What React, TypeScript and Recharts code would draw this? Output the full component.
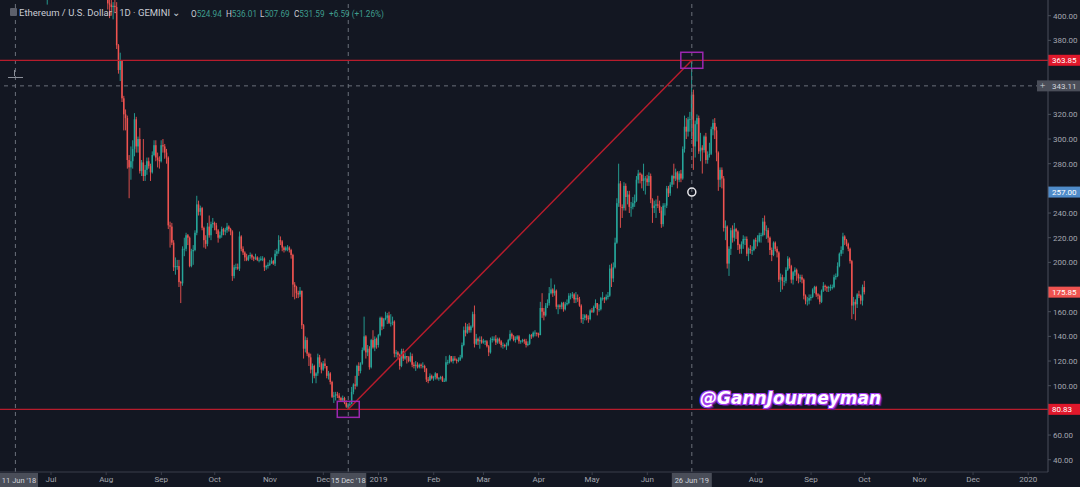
import {
  Bar,
  ComposedChart,
  ReferenceDot,
  ReferenceLine,
  XAxis,
  YAxis,
} from "recharts";

const UP = "#26a69a";
const DOWN = "#ef5350";
const BG = "#131722";
const TEXT = "#a3a6af";
const LINE_RED = "#b71c2c";
const PURPLE = "#9c27b0";
const DASH = "#6b707b";

// daily candles as [high, low, close]; open is the previous close
const firstOpen = 475;
const jun18 = [ // from 22 Jun
  [483, 459, 465], [476, 462, 470], [473, 428, 456], [466, 445, 458], [462, 428, 430],
  [445, 425, 441], [442, 418, 420], [438, 409, 435], [458, 433, 455],
];
const jul18 = [
  [461, 448, 453], [478, 446, 476], [480, 462, 464], [471, 459, 467], [472, 458, 467],
  [476, 459, 474], [494, 470, 491], [496, 483, 486], [490, 470, 473], [474, 432, 434],
  [450, 432, 448], [448, 425, 431], [440, 428, 433], [440, 430, 435], [453, 433, 449],
  [481, 448, 479], [503, 472, 499], [510, 475, 478], [480, 463, 469], [477, 444, 449],
  [465, 446, 461], [467, 454, 456], [465, 453, 457], [482, 455, 479], [482, 466, 472],
  [474, 460, 464], [472, 455, 470], [472, 462, 467], [473, 462, 466], [467, 447, 457],
  [459, 428, 433],
];
const aug18 = [
  [435, 417, 423], [424, 405, 410], [417, 398, 409], [416, 400, 407], [411, 397, 408],
  [414, 402, 407], [411, 373, 376], [377, 353, 356], [370, 347, 364], [364, 330, 333],
  [335, 307, 320], [324, 307, 317], [319, 276, 283], [287, 252, 277], [294, 267, 282],
  [299, 276, 292], [321, 286, 316], [318, 289, 294], [302, 289, 300], [309, 272, 274],
  [283, 270, 281], [300, 266, 270], [279, 266, 275], [285, 271, 282], [285, 276, 278],
  [280, 266, 273], [290, 272, 287], [299, 286, 295], [299, 282, 285], [289, 277, 283],
  [286, 276, 282],
];
const sep18 = [
  [299, 281, 295], [300, 289, 294], [296, 284, 289], [292, 280, 285], [286, 227, 230],
  [233, 212, 229], [232, 214, 216], [218, 193, 196], [204, 190, 197], [202, 194, 197],
  [202, 180, 184], [185, 167, 183], [213, 181, 211], [220, 205, 211], [224, 209, 222],
  [223, 214, 220], [221, 196, 197], [211, 196, 209], [214, 198, 210], [226, 209, 224],
  [254, 222, 247], [250, 238, 241], [246, 238, 244], [245, 226, 228], [229, 212, 218],
  [222, 211, 215], [232, 213, 229], [238, 220, 222], [233, 218, 231], [236, 228, 232],
];
const oct18 = [
  [233, 226, 230], [232, 223, 226], [227, 216, 220], [225, 219, 222], [229, 220, 227],
  [228, 222, 225], [228, 222, 226], [232, 224, 229], [230, 225, 227], [228, 222, 225],
  [226, 185, 189], [198, 187, 196], [199, 194, 196], [199, 194, 195], [225, 193, 221],
  [222, 209, 211], [213, 206, 208], [209, 201, 204], [207, 201, 202], [206, 201, 205],
  [208, 203, 206], [207, 202, 204], [205, 201, 203], [207, 202, 204], [205, 201, 202],
  [204, 200, 202], [205, 201, 203], [205, 201, 203], [204, 193, 196], [198, 194, 197],
  [200, 195, 198],
];
const nov18 = [
  [202, 197, 199], [204, 199, 201], [202, 198, 199], [210, 197, 207], [211, 205, 209],
  [222, 207, 218], [221, 214, 217], [218, 209, 212], [213, 208, 210], [213, 209, 212],
  [214, 209, 212], [213, 208, 210], [211, 203, 206], [207, 172, 182], [184, 170, 180],
  [181, 171, 175], [177, 171, 174], [180, 172, 177], [177, 146, 149], [150, 122, 130],
  [140, 127, 137], [139, 124, 126], [127, 116, 123], [126, 110, 113], [118, 102, 116],
  [117, 106, 108], [111, 102, 110], [126, 108, 123], [125, 115, 118], [119, 110, 113],
];
const dec18 = [
  [120, 112, 118], [122, 114, 116], [116, 106, 108], [112, 105, 110], [111, 101, 103],
  [104, 90, 91], [95, 86, 92], [95, 88, 93], [95, 90, 92], [94, 88, 90],
  [91, 87, 88], [92, 87, 90], [91, 85, 86], [88, 82, 83], [86, 80.83, 84],
  [87, 83, 85], [99, 85, 95], [102, 93, 101], [108, 97, 100], [117, 99, 116],
  [119, 108, 112], [119, 110, 118], [131, 117, 129], [156, 128, 140], [141, 122, 127],
  [133, 124, 130], [132, 113, 115], [138, 114, 137], [145, 130, 131], [140, 128, 138],
  [139, 130, 133],
];
const jan19 = [
  [142, 131, 141], [156, 140, 155], [156, 145, 148], [155, 146, 154], [160, 153, 155],
  [159, 150, 157], [160, 150, 151], [158, 148, 151], [156, 149, 152], [153, 123, 126],
  [129, 123, 127], [128, 121, 125], [126, 113, 116], [130, 115, 128], [130, 120, 122],
  [127, 121, 124], [124, 118, 123], [124, 119, 120], [127, 119, 124], [126, 115, 117],
  [119, 114, 116], [120, 112, 117], [119, 114, 115], [118, 114, 117], [118, 114, 116],
  [119, 114, 116], [117, 111, 114], [114, 103, 105], [107, 102, 104], [110, 104, 108],
  [109, 105, 106],
];
const feb19 = [
  [108, 104, 107], [111, 105, 110], [110, 105, 106], [107, 104, 106], [108, 105, 107],
  [108, 103, 104], [106, 103, 104], [124, 103, 119], [121, 117, 119], [125, 118, 124],
  [124, 119, 120], [124, 118, 122], [124, 120, 121], [122, 118, 120], [123, 119, 121],
  [125, 120, 123], [135, 122, 133], [148, 132, 145], [151, 140, 143], [150, 142, 148],
  [151, 143, 145], [149, 143, 148], [160, 147, 158], [165, 131, 134], [142, 133, 138],
  [139, 133, 136], [140, 130, 137], [140, 134, 135],
];
const mar19 = [
  [138, 134, 136], [137, 133, 136], [137, 131, 132], [133, 124, 127], [139, 126, 137],
  [140, 135, 138], [140, 136, 138], [141, 133, 135], [139, 134, 138], [139, 134, 136],
  [137, 131, 133], [135, 130, 133], [134, 131, 132], [135, 129, 133], [138, 132, 137],
  [145, 136, 142], [143, 138, 140], [141, 136, 137], [140, 135, 138], [141, 137, 140],
  [141, 134, 136], [137, 134, 136], [138, 135, 137], [138, 134, 136], [138, 131, 133],
  [136, 132, 134], [142, 133, 141], [142, 138, 140], [144, 139, 143], [145, 140, 143],
  [143, 140, 142],
];
const apr19 = [
  [143, 139, 141], [168, 141, 163], [175, 155, 160], [163, 153, 157], [167, 156, 165],
  [170, 163, 167], [180, 165, 175], [187, 174, 178], [179, 172, 175], [182, 173, 177],
  [178, 162, 164], [166, 158, 165], [166, 162, 164], [168, 162, 167], [168, 160, 162],
  [168, 161, 166], [170, 165, 167], [175, 166, 173], [175, 170, 173], [176, 171, 174],
  [175, 167, 170], [176, 167, 171], [174, 168, 170], [172, 164, 165], [166, 151, 154],
  [158, 150, 155], [158, 153, 157], [158, 153, 155], [157, 151, 154], [162, 153, 161],
];
const may19 = [
  [163, 159, 160], [165, 159, 164], [170, 163, 167], [167, 157, 162], [166, 160, 162],
  [172, 161, 171], [176, 169, 171], [172, 167, 170], [174, 169, 172], [176, 170, 173],
  [198, 172, 195], [199, 180, 187], [200, 184, 196], [220, 195, 216], [252, 215, 248],
  [280, 245, 264], [266, 228, 245], [247, 236, 244], [265, 242, 262], [264, 242, 253],
  [258, 247, 255], [258, 240, 245], [249, 237, 245], [253, 243, 248], [255, 245, 250],
  [270, 249, 267], [275, 264, 272], [273, 264, 271], [272, 260, 266], [280, 258, 268],
  [270, 255, 268],
];
const jun19 = [
  [271, 262, 265], [273, 262, 270], [272, 248, 251], [252, 232, 244], [250, 240, 246],
  [251, 236, 247], [254, 244, 246], [250, 240, 242], [245, 228, 231], [248, 229, 246],
  [248, 238, 246], [262, 244, 260], [262, 253, 256], [265, 254, 263], [271, 261, 270],
  [280, 263, 268], [276, 266, 273], [274, 260, 267], [274, 265, 272], [275, 265, 268],
  [294, 267, 292], [319, 289, 310], [317, 300, 306], [318, 302, 316], [322, 306, 316],
  [363.85, 300, 336], [340, 275, 294], [315, 285, 312], [320, 298, 317], [319, 288, 290],
];
const jul19 = [
  [305, 282, 293], [295, 272, 291], [303, 289, 302], [305, 280, 283], [290, 280, 287],
  [297, 285, 288], [310, 287, 308], [316, 303, 313], [317, 300, 307], [310, 282, 289],
  [290, 258, 267], [277, 261, 275], [277, 260, 268], [270, 225, 228], [234, 218, 229],
  [230, 195, 199], [213, 189, 211], [228, 206, 226], [230, 216, 220], [232, 217, 227],
  [228, 219, 225], [226, 210, 214], [215, 207, 211], [217, 207, 215], [222, 211, 219],
  [221, 214, 219], [221, 205, 207], [212, 201, 211], [214, 207, 210], [213, 206, 210],
  [219, 209, 218],
];
const aug19 = [
  [220, 211, 217], [222, 213, 217], [224, 216, 222], [224, 216, 222], [236, 221, 233],
  [238, 222, 226], [230, 219, 226], [228, 216, 220], [221, 206, 210], [212, 201, 206],
  [217, 205, 216], [217, 209, 211], [213, 204, 208], [209, 184, 186], [191, 176, 188],
  [190, 178, 185], [188, 181, 185], [196, 183, 194], [205, 193, 203], [204, 195, 197],
  [198, 183, 186], [193, 182, 192], [196, 189, 194], [195, 185, 190], [191, 183, 187],
  [190, 184, 188], [190, 183, 186], [187, 170, 173], [174, 166, 169], [172, 165, 169],
  [174, 166, 171],
];
const sep19 = [
  [174, 169, 172], [179, 171, 178], [181, 175, 180], [181, 172, 174], [175, 170, 173],
  [174, 166, 168], [178, 167, 177], [184, 176, 181], [182, 177, 180], [181, 176, 179],
  [181, 176, 180], [182, 177, 180], [182, 178, 180], [190, 179, 188], [191, 186, 189],
  [200, 188, 197], [208, 196, 207], [213, 205, 210], [224, 207, 221], [222, 214, 218],
  [219, 213, 215], [216, 209, 211], [212, 199, 201], [202, 154, 165], [172, 158, 168],
  [170, 153, 166], [175, 163, 174], [177, 171, 173], [174, 166, 169], [182, 165, 180],
];
const oct19 = [[185, 174, 175.85]];

// time axis ticks
const tickMonths = [
  [2018, 7], [2018, 8], [2018, 9], [2018, 10], [2018, 11], [2018, 12], [2019, 1],
  [2019, 2], [2019, 3], [2019, 4], [2019, 5], [2019, 6], [2019, 8], [2019, 9],
  [2019, 10], [2019, 11], [2019, 12], [2020, 1],
];
const tickNames = [
  "Jul", "Aug", "Sep", "Oct", "Nov", "Dec", "2019", "Feb", "Mar", "Apr", "May",
  "Jun", "Aug", "Sep", "Oct", "Nov", "Dec", "2020",
];
// 80, 180, 260, 340 and 360 sit under the price badges
const priceTicks = [40, 60, 100, 120, 140, 160, 200, 220, 240, 280, 300, 320, 380, 400];

const DAY = 86400000;
const T0 = Date.UTC(2018, 6, 1);
const dayOf = (y: number, m: number, d: number) => Math.round((Date.UTC(y, m - 1, d) - T0) / DAY);

const blocks: [number, number[][]][] = [
  [dayOf(2018, 6, 22), jun18], [dayOf(2018, 7, 1), jul18], [dayOf(2018, 8, 1), aug18],
  [dayOf(2018, 9, 1), sep18], [dayOf(2018, 10, 1), oct18], [dayOf(2018, 11, 1), nov18],
  [dayOf(2018, 12, 1), dec18], [dayOf(2019, 1, 1), jan19], [dayOf(2019, 2, 1), feb19],
  [dayOf(2019, 3, 1), mar19], [dayOf(2019, 4, 1), apr19], [dayOf(2019, 5, 1), may19],
  [dayOf(2019, 6, 1), jun19], [dayOf(2019, 7, 1), jul19], [dayOf(2019, 8, 1), aug19],
  [dayOf(2019, 9, 1), sep19], [dayOf(2019, 10, 1), oct19],
];

const candles: any[] = [];
let prevClose = firstOpen;
blocks.forEach(([start, rows]) => {
  rows.forEach(([h, l, c], i) => {
    const o = prevClose;
    candles.push({ t: start + i, open: o, close: c, range: [Math.min(l, o, c), Math.max(h, o, c)] });
    prevClose = c;
  });
});

const tickDays = tickMonths.map(([y, m]) => dayOf(y, m, 1));
const tickLabel: Record<number, string> = {};
tickDays.forEach((d, i) => (tickLabel[d] = tickNames[i]));

const lowDay = dayOf(2018, 12, 15);
const highDay = dayOf(2019, 6, 26);
const markDay = dayOf(2018, 6, 11);
const lowPrice = 80.83;
const highPrice = 363.85;

function Candle(props: any) {
  const { x, y, width, height, payload } = props;
  const { open, close, range } = payload;
  const [lo, hi] = range;
  const top = Math.min(y, y + height);
  const h = Math.abs(height);
  const ppu = hi > lo ? h / (hi - lo) : 0;
  const cx = x + width / 2;
  const color = close >= open ? UP : DOWN;
  const bTop = top + (hi - Math.max(open, close)) * ppu;
  const bBot = top + (hi - Math.min(open, close)) * ppu;
  return (
    <g>
      <line x1={cx} x2={cx} y1={top} y2={top + h} stroke={color} strokeWidth={0.9} />
      <rect x={cx - 0.75} y={bTop} width={1.5} height={Math.max(0.8, bBot - bTop)} fill={color} />
    </g>
  );
}

function priceBadge(text: string, fill: string, color = "#fff", plus = false) {
  return (p: any) => {
    const vb = p.viewBox || {};
    const xr = (vb.x || 0) + (vb.width || 0);
    const yc = vb.y || 0;
    return (
      <g>
        {plus && (
          <g>
            <rect x={xr - 11} y={yc - 5.5} width={11} height={11} fill="#4a4e59" />
            <text x={xr - 5.5} y={yc + 3.5} textAnchor="middle" fill="#d1d4dc" fontSize={10}>+</text>
          </g>
        )}
        <rect x={xr} y={yc - 5.5} width={32} height={11} fill={fill} />
        <text x={xr + 4} y={yc + 3} fill={color} fontSize={8} fontFamily="Roboto, sans-serif">{text}</text>
      </g>
    );
  };
}

function dateBadge(text: string, w: number) {
  return (p: any) => {
    const vb = p.viewBox || {};
    const cx = vb.x || 0;
    const bottom = (vb.y || 0) + (vb.height || 0);
    const left = Math.max(0, cx - w / 2);
    return (
      <g>
        <rect x={left} y={bottom + 1} width={w} height={14} fill="#4a4e59" />
        <text x={left + w / 2} y={bottom + 11} textAnchor="middle" fill="#d1d4dc" fontSize={7.5} fontFamily="Roboto, sans-serif">
          {text}
        </text>
      </g>
    );
  };
}

function PurpleBox(props: any) {
  const { cx, cy } = props;
  return <rect x={cx - 11} y={cy - 8} width={22} height={16} fill="none" stroke={PURPLE} strokeWidth={1.5} />;
}

function Ring(props: any) {
  const { cx, cy } = props;
  return <circle cx={cx} cy={cy} r={4} fill="none" stroke="#e8e8ec" strokeWidth={1.5} />;
}

const hdr: React.CSSProperties = {
  position: "absolute",
  top: 7,
  fontFamily: "Roboto, sans-serif",
  fontSize: 9.5,
  color: "#c9ccd4",
  whiteSpace: "nowrap",
  lineHeight: "12px",
};
const ohlc: React.CSSProperties = { ...hdr, fontSize: 8.2, top: 8 };
const val = { color: "#3f9d8e" };

export default function App() {
  return (
    <div style={{ position: "absolute", left: 0, top: 0, width: 1080, height: 487, background: BG, overflow: "hidden" }}>
      <ComposedChart width={1080} height={487} data={candles} margin={{ top: 0, right: 0, bottom: 0, left: 0 }}>
        <XAxis
          dataKey="t"
          type="number"
          domain={[-28.65, 560.1]}
          allowDataOverflow
          ticks={tickDays}
          interval={0}
          tickFormatter={(v: number) => tickLabel[v] || ""}
          height={15}
          tickSize={3}
          tickMargin={1}
          tick={{ fill: TEXT, fontSize: 8, fontFamily: "Roboto, sans-serif" }}
          axisLine={{ stroke: "#3a3e4a" }}
          tickLine={{ stroke: "#3a3e4a" }}
        />
        <YAxis
          orientation="right"
          type="number"
          domain={[30.03, 412.73]}
          allowDataOverflow
          ticks={priceTicks}
          interval={0}
          width={32}
          tickSize={3}
          tickMargin={2}
          tickFormatter={(v: number) => v.toFixed(2)}
          tick={{ fill: TEXT, fontSize: 8, fontFamily: "Roboto, sans-serif" }}
          axisLine={{ stroke: "#4a4f5b" }}
          tickLine={{ stroke: "#4a4f5b" }}
        />
        <ReferenceLine x={markDay} stroke={DASH} strokeDasharray="4 4" label={{ content: dateBadge("11 Jun '18", 38) }} />
        <ReferenceLine x={lowDay} stroke={DASH} strokeDasharray="4 4" />
        <ReferenceLine x={highDay} stroke={DASH} strokeDasharray="4 4" />
        <ReferenceLine y={343.11} stroke={DASH} strokeDasharray="4 4" label={{ content: priceBadge("343.11", "#4a4e59", "#d1d4dc", true) }} />
        <Bar dataKey="range" barSize={1.4} shape={<Candle />} isAnimationActive={false} />
        <ReferenceLine y={highPrice} stroke={LINE_RED} strokeWidth={1.2} label={{ content: priceBadge("363.85", "#e0182b") }} />
        <ReferenceLine y={lowPrice} stroke={LINE_RED} strokeWidth={1.2} label={{ content: priceBadge("80.83", "#e0182b") }} />
        <ReferenceLine y={257} stroke="none" label={{ content: priceBadge("257.00", "#4f8bc9") }} />
        <ReferenceLine y={175.85} stroke="none" label={{ content: priceBadge("175.85", "#ef5350") }} />
        <ReferenceLine
          segment={[{ x: lowDay, y: lowPrice }, { x: highDay, y: highPrice }]}
          stroke={LINE_RED}
          strokeWidth={1.5}
        />
        <ReferenceDot x={lowDay} y={lowPrice} shape={<PurpleBox />} />
        <ReferenceDot x={highDay} y={highPrice} shape={<PurpleBox />} />
        <ReferenceDot x={highDay} y={257} shape={<Ring />} />
        <ReferenceLine x={lowDay} stroke="none" label={{ content: dateBadge("15 Dec '18", 36) }} />
        <ReferenceLine x={highDay} stroke="none" label={{ content: dateBadge("26 Jun '19", 40) }} />
      </ComposedChart>

      <div style={{ position: "absolute", left: 10, top: 8, width: 7, height: 8, background: "#5d606b", borderRadius: 1 }} />
      <div style={{ ...hdr, left: 19 }}>Ethereum / U.S. Dollar · 1D · GEMINI ⌄</div>
      <div style={{ ...ohlc, left: 191 }}>O<span style={val}>524.94</span></div>
      <div style={{ ...ohlc, left: 226 }}>H<span style={val}>536.01</span></div>
      <div style={{ ...ohlc, left: 260 }}>L<span style={val}>507.69</span></div>
      <div style={{ ...ohlc, left: 294 }}>C<span style={val}>531.59</span></div>
      <div style={{ ...ohlc, left: 329 }}><span style={val}>+6.59 (+1.26%)</span></div>

      <div style={{ position: "absolute", left: 8, top: 77, width: 15, height: 1, background: "#8a8f99" }} />
      <div style={{ position: "absolute", left: 14, top: 70, width: 1, height: 6, background: "#8a8f99" }} />

      <div
        style={{
          position: "absolute",
          left: 700,
          top: 388,
          fontFamily: "'DejaVu Sans', sans-serif",
          fontWeight: 700,
          fontStyle: "italic",
          fontSize: 17,
          lineHeight: "20px",
          color: "#ffffff",
          whiteSpace: "nowrap",
          textShadow:
            "-1px -1px 0 #a63df0, 1px -1px 0 #a63df0, -1px 1px 0 #a63df0, 1px 1px 0 #a63df0, 2px 2px 1px #5b1a8e",
        }}
      >
        @GannJourneyman
      </div>
    </div>
  );
}
